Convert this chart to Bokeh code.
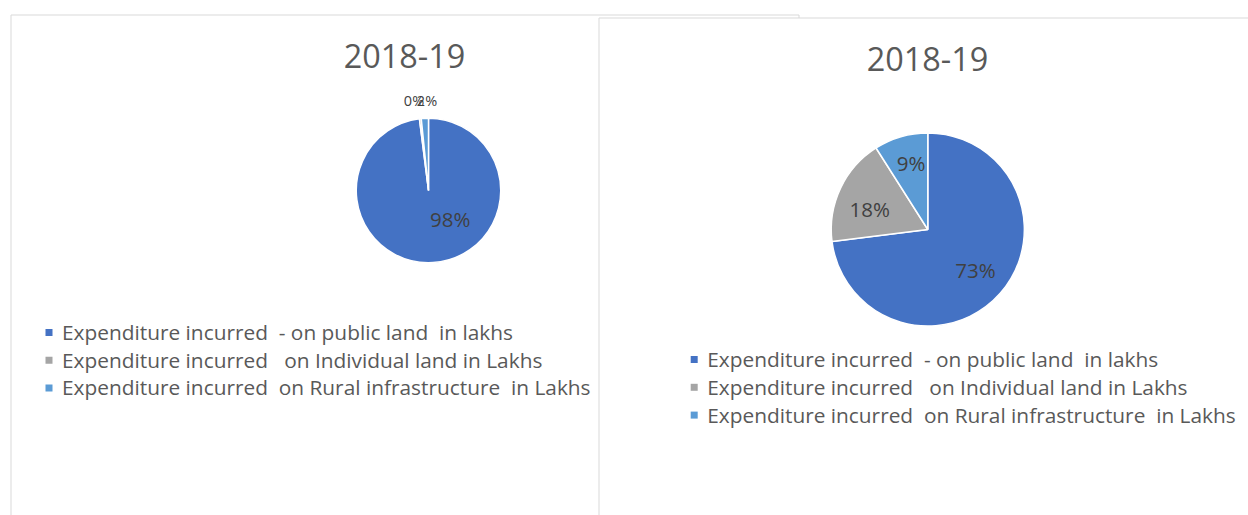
import math
from bokeh.plotting import figure
from bokeh.models import Range1d, ColumnDataSource
from bokeh.core.properties import value
from bokeh.embed import file_html
from bokeh.resources import INLINE

# ---------------- data ----------------
categories = [
    "Expenditure incurred  - on public land  in lakhs",
    "Expenditure incurred   on Individual land in Lakhs",
    "Expenditure incurred  on Rural infrastructure  in Lakhs",
]
colors = ["#4472C4", "#A5A5A5", "#5B9BD5"]
left_title = "2018-19"
right_title = "2018-19"
left_share = [98.0, 0.4, 1.6]     # percent of total expenditure (left chart)
right_share = [73.0, 18.0, 9.0]   # percent of total expenditure (right chart)

# ---------------- layout (page pixels) ----------------
W, H = 1248, 515
FONT = value("Open Sans")
TXT = "#595959"
LBL = "#404040"
BORDER = "#D9D9D9"
BASE_FIX = 0.41   # renderer places alphabetic baseline this many em too low

p = figure(width=W, height=H, output_backend="svg", toolbar_location=None,
           x_range=Range1d(0, W), y_range=Range1d(-H, 0),
           x_axis_type=None, y_axis_type=None, min_border=0,
           outline_line_color=None, background_fill_color="white",
           border_fill_color="white")
p.grid.visible = False


def Y(v):
    return -v


def keep_spaces(s):
    # SVG collapses runs of spaces; keep the visual gaps with no-break spaces
    return s.replace("  ", " \u00a0")


def label(xs, baselines, texts, size, color, align):
    p.text(x=xs, y=[Y(b - BASE_FIX * size) for b in baselines], text=texts,
           text_font=FONT, text_font_size="%.2fpx" % size, text_color=color,
           text_align=align, text_baseline="alphabetic")


def pie(cx, cy, r, shares, label_offsets, label_sizes):
    total = sum(shares)
    starts, ends = [], []
    acc = 0.0
    for s in shares:
        t0 = acc / total * 2 * math.pi
        acc += s
        t1 = acc / total * 2 * math.pi
        starts.append(math.pi / 2 - t0)
        ends.append(math.pi / 2 - t1)
    src = ColumnDataSource(dict(x=[cx] * len(shares), y=[Y(cy)] * len(shares),
                                start=starts, end=ends, color=colors))
    lw = 1.5
    p.wedge(x="x", y="y", radius=r + lw / 2, start_angle="start", end_angle="end",
            direction="clock", fill_color="color", line_color="white",
            line_width=lw, source=src)
    labels = ["%d%%" % round(s / total * 100) for s in shares]
    for lab, (dx, dy), fs in zip(labels, label_offsets, label_sizes):
        label([cx + dx], [cy + dy], [lab], fs, LBL, "center")


def legend(x0, y0, step):
    ys = [y0 + i * step for i in range(len(categories))]
    p.rect(x=[x0] * len(categories), y=[Y(v) for v in ys], width=7, height=7,
           fill_color=colors, line_color=None)
    label([x0 + 13] * len(categories), [v + 8 for v in ys],
          [keep_spaces(c) for c in categories], 20.85, TXT, "left")


# left panel
p.quad(left=[10.5], right=[798.5], top=[Y(14.5)], bottom=[Y(700)],
       fill_color="white", line_color=BORDER, line_width=1)
label([404], [69], [left_title], 32.4, TXT, "center")
pie(428, 190, 71.5, left_share,
    [(21.7, 36.7), (-14.5, 106 - 190), (-1.5, 106 - 190)],
    [20.5, 14.5, 14.5])
legend(48.5, 332, 27.7)

# right panel
p.quad(left=[598.5], right=[1400], top=[Y(17.5)], bottom=[Y(700)],
       fill_color="white", line_color=BORDER, line_width=1)
label([927], [71.5], [right_title], 32.4, TXT, "center")
pie(927.3, 229, 95.8, right_share,
    [(47.7, 278.3 - 229), (-58, 216.7 - 229), (-16.8, 171 - 229)],
    [20.5, 20.5, 20.5])
legend(693.7, 359, 27.8)

open("out.html", "w").write(file_html(p, INLINE))
